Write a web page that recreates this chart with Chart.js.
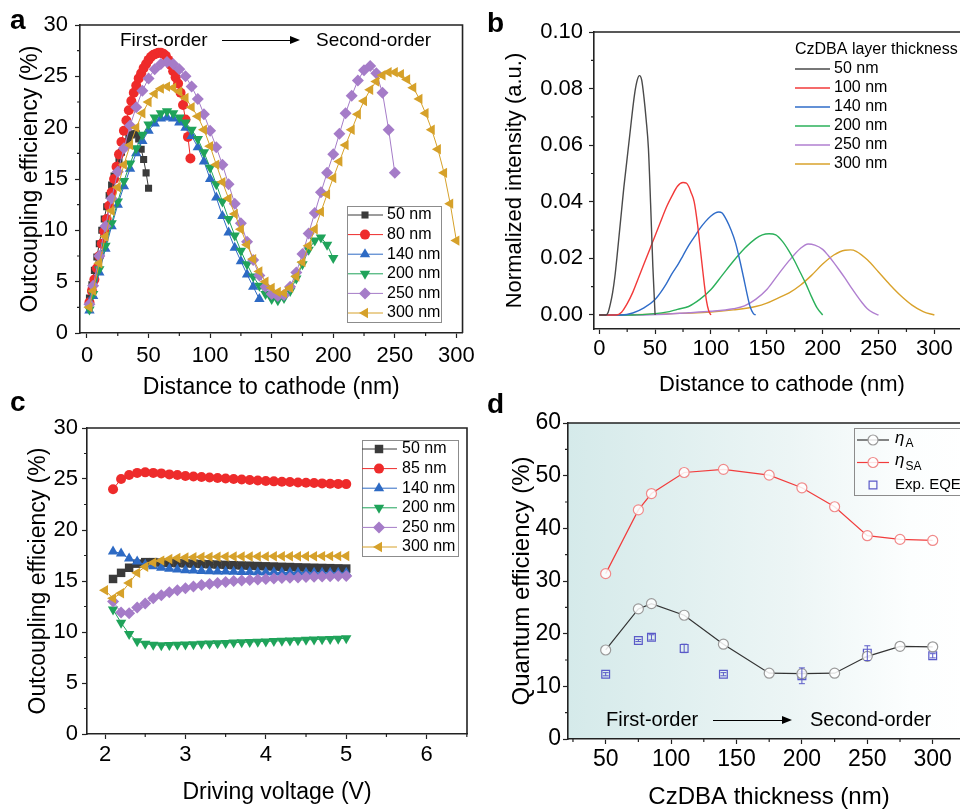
<!DOCTYPE html>
<html>
<head>
<meta charset="utf-8">
<script src="https://cdn.jsdelivr.net/npm/chart.js@4.4.1/dist/chart.umd.min.js"></script>
<style>
  html, body { margin: 0; padding: 0; background: #fff; }
  #wrap { position: relative; width: 960px; height: 809px; overflow: hidden; font-family: Arial, "Liberation Sans", sans-serif; }
  canvas { position: absolute; }
  .lbl { position: absolute; font-weight: bold; font-size: 28px; line-height: 1; z-index: 2; }
  .note { position: absolute; font-size: 19px; line-height: 1; white-space: nowrap; z-index: 2; }
  .arrow { position: absolute; height: 0; border-top: 1.5px solid #000; z-index: 2; }
  .arrow:after { content: ''; position: absolute; right: -10px; top: -5.5px; border-left: 10px solid #000; border-top: 4px solid transparent; border-bottom: 4px solid transparent; }
</style>
</head>
<body>
<div id="wrap">
  <canvas id="chartA" width="480" height="400" style="left:0;top:0"></canvas>
  <canvas id="chartB" width="500" height="400" style="left:480px;top:0"></canvas>
  <canvas id="chartC" width="480" height="409" style="left:0;top:400px"></canvas>
  <canvas id="chartD" width="500" height="409" style="left:480px;top:400px"></canvas>

  <div class="lbl" style="left:10px;top:6px">a</div>
  <div class="lbl" style="left:487px;top:9px">b</div>
  <div class="lbl" style="left:10px;top:388px">c</div>
  <div class="lbl" style="left:487px;top:390px">d</div>

  <div class="note" style="left:120px;top:30px">First-order</div>
  <div class="arrow" style="left:222px;top:40px;width:68px"></div>
  <div class="note" style="left:316px;top:30px">Second-order</div>

  <div class="note" style="left:606px;top:709px;font-size:20px">First-order</div>
  <div class="arrow" style="left:713px;top:720px;width:69px"></div>
  <div class="note" style="left:810px;top:709px;font-size:20px">Second-order</div>
</div>
<script>
const FONT = 'Arial, "Liberation Sans", sans-serif';
Chart.defaults.font.family = FONT;
Chart.defaults.color = '#000';

// ---------- panel a: outcoupling vs distance to cathode ----------
const distFine = [2, 4, 6, 8, 10, 12, 14, 16, 18, 20, 22, 24, 26, 28, 30, 32, 34, 36, 38, 40, 42,
  44, 46, 48, 50, 52, 54, 56, 58, 60, 62, 64, 66, 68, 70, 72, 74, 76, 78, 80, 82, 84];
const distCoarse = [2, 5, 10, 15, 20, 25, 30, 35, 40, 45, 50, 55, 60, 65, 70, 75, 80, 85, 90, 95, 100,
  105, 110, 115, 120, 125, 130, 135, 140, 145, 150, 155, 160, 165, 170, 175, 180, 185, 190, 195, 200,
  205, 210, 215, 220, 225, 230, 235, 240, 245, 250, 255, 260, 265, 270, 275, 280, 285, 290, 295, 300];

const effA50 = [3.4, 4.7, 6.1, 7.4, 8.7, 10.0, 11.1, 12.3, 13.4, 14.4, 15.3, 16.2, 16.9, 17.6, 18.2,
  18.6, 19.0, 19.3, 19.4, 19.4, 18.9, 17.9, 16.9, 15.6, 14.1];
const effA80 = [3.0, 4.1, 5.2, 6.3, 7.5, 8.7, 9.9, 11.1, 12.4, 13.7, 15.0, 16.2, 17.4, 18.6, 19.7,
  20.7, 21.7, 22.6, 23.4, 24.1, 24.8, 25.3, 25.8, 26.2, 26.6, 26.9, 27.1, 27.2, 27.3, 27.3, 27.2,
  27.0, 26.6, 26.1, 25.5, 24.9, 24.3, 23.4, 22.2, 20.8, 19.1, 17.0];
const effA140 = [2.2, 3.6, 5.9, 8.2, 10.4, 12.5, 14.3, 16.0, 17.5, 18.7, 19.7, 20.4, 20.9, 21.0, 20.9,
  20.5, 20.0, 19.2, 18.1, 16.7, 15.0, 13.2, 11.4, 9.8, 8.3, 7.0, 5.7, 4.5, 3.3];
const effA200 = [2.3, 3.8, 6.2, 8.5, 10.7, 12.8, 14.8, 16.5, 18.0, 19.3, 20.3, 21.0, 21.4, 21.6, 21.4,
  21.0, 20.5, 19.8, 18.9, 17.6, 16.1, 14.5, 12.8, 11.1, 9.5, 8.0, 6.7, 5.5, 4.6, 3.8, 3.3, 3.2, 3.4,
  4.1, 5.3, 6.7, 8.1, 9.0, 9.3, 8.6, 7.3];
const effA250 = [2.8, 4.6, 7.5, 10.4, 13.1, 15.7, 18.0, 20.2, 22.0, 23.6, 24.8, 25.7, 26.2, 26.4, 26.2,
  25.7, 25.0, 24.0, 22.8, 21.3, 19.7, 18.1, 16.4, 14.5, 12.6, 10.7, 8.9, 7.1, 5.6, 4.5, 3.8, 3.6, 3.7,
  4.5, 5.9, 7.7, 9.7, 11.7, 13.7, 15.6, 17.4, 19.4, 21.4, 23.1, 24.6, 25.6, 26.0, 25.3, 23.4, 19.8, 15.6];
const effA300 = [2.5, 4.1, 6.8, 9.4, 11.9, 14.2, 16.4, 18.3, 20.0, 21.4, 22.5, 23.3, 23.8, 24.0, 23.9,
  23.5, 22.9, 22.0, 21.1, 19.8, 18.2, 16.4, 14.7, 13.1, 11.6, 10.1, 8.6, 7.2, 6.0, 5.0, 4.4, 4.0, 3.9,
  4.4, 5.5, 6.9, 8.5, 10.1, 11.8, 13.5, 15.1, 16.7, 18.3, 19.8, 21.3, 22.6, 23.7, 24.5, 25.1, 25.4,
  25.4, 25.2, 24.7, 23.9, 22.8, 21.4, 19.8, 17.9, 15.6, 12.6, 9.0];
const ticksAx = [0, 50, 100, 150, 200, 250, 300];
const minorAx = [25, 75, 125, 175, 225, 275];
const ticksAy = [0, 5, 10, 15, 20, 25, 30];
const minorAy = [2.5, 7.5, 12.5, 17.5, 22.5, 27.5];

// ---------- panel b: emission profiles ----------
const posB50 = [0, 4, 6, 8, 10, 12, 14, 16, 18, 20, 22, 24, 26, 28, 30, 32, 34, 36, 38, 40, 42, 44, 46, 48, 50];
const intB50 = [0, 0, 0, 0.001, 0.004, 0.008, 0.0136, 0.021, 0.029, 0.037, 0.045, 0.052, 0.059, 0.066,
  0.073, 0.079, 0.083, 0.0846, 0.083, 0.077, 0.069, 0.059, 0.039, 0.017, 0];
const posB100 = [0, 15, 20, 25, 30, 35, 40, 45, 50, 55, 60, 65, 70, 75, 78, 80, 82, 85, 88, 90, 92, 94, 96, 98, 100];
const intB100 = [0, 0, 0.001, 0.004, 0.008, 0.013, 0.018, 0.023, 0.028, 0.033, 0.038, 0.042, 0.0455,
  0.0468, 0.0466, 0.0455, 0.0435, 0.040, 0.032, 0.025, 0.018, 0.011, 0.005, 0.0015, 0];
const posB140 = [0, 20, 30, 40, 50, 55, 60, 65, 70, 75, 80, 85, 90, 95, 100, 104, 107, 110, 114, 118,
  122, 126, 129, 132, 135, 138, 140];
const intB140 = [0, 0, 0.0007, 0.0025, 0.0055, 0.008, 0.011, 0.0145, 0.0175, 0.021, 0.0245, 0.0275,
  0.0305, 0.033, 0.035, 0.0361, 0.0364, 0.036, 0.0335, 0.030, 0.0255, 0.019, 0.0136, 0.008, 0.003, 0.0005, 0];
const posB200 = [0, 30, 50, 60, 70, 80, 90, 100, 110, 120, 130, 140, 146, 152, 158, 164, 170, 175, 180,
  185, 190, 195, 200];
const intB200 = [0, 0, 0.0005, 0.001, 0.002, 0.003, 0.0055, 0.009, 0.014, 0.019, 0.0235, 0.027, 0.0283,
  0.0287, 0.0283, 0.026, 0.0225, 0.019, 0.015, 0.011, 0.0065, 0.0025, 0];
const posB250 = [0, 40, 80, 100, 120, 130, 140, 150, 160, 170, 180, 187, 193, 200, 205, 210, 215, 220,
  225, 230, 235, 240, 245, 250];
const intB250 = [0, 0, 0.0008, 0.0013, 0.0022, 0.0032, 0.0055, 0.009, 0.0142, 0.0192, 0.0235, 0.0251,
  0.0247, 0.0232, 0.021, 0.0185, 0.0158, 0.013, 0.010, 0.0072, 0.0045, 0.0022, 0.0008, 0];
const posB300 = [0, 50, 100, 120, 140, 150, 160, 170, 180, 190, 200, 210, 220, 225, 230, 240, 250, 260,
  270, 280, 290, 300];
const intB300 = [0, 0.0003, 0.001, 0.0018, 0.003, 0.0042, 0.006, 0.0078, 0.0105, 0.014, 0.018, 0.0212,
  0.0229, 0.023, 0.0225, 0.0195, 0.0152, 0.0108, 0.0068, 0.0035, 0.0012, 0];
const ticksBx = [0, 50, 100, 150, 200, 250, 300];
const minorBx = [25, 75, 125, 175, 225, 275];
const ticksBy = [0, 0.02, 0.04, 0.06, 0.08, 0.10];
const minorBy = [0.01, 0.03, 0.05, 0.07, 0.09];

// ---------- panel c: outcoupling vs driving voltage ----------
const voltC = [2.1, 2.2, 2.3, 2.4, 2.5, 2.6, 2.7, 2.8, 2.9, 3.0, 3.1, 3.2, 3.3, 3.4, 3.5, 3.6, 3.7, 3.8,
  3.9, 4.0, 4.1, 4.2, 4.3, 4.4, 4.5, 4.6, 4.7, 4.8, 4.9, 5.0];
const voltC300 = [2.0, 2.1, 2.2, 2.3, 2.4, 2.5, 2.6, 2.7, 2.8, 2.9, 3.0, 3.1, 3.2, 3.3, 3.4, 3.5, 3.6,
  3.7, 3.8, 3.9, 4.0, 4.1, 4.2, 4.3, 4.4, 4.5, 4.6, 4.7, 4.8, 4.9, 5.0];
const effC50 = [15.2, 15.8, 16.3, 16.7, 16.85, 16.85, 16.8, 16.78, 16.75, 16.72, 16.7, 16.67, 16.64,
  16.61, 16.58, 16.55, 16.52, 16.5, 16.47, 16.44, 16.42, 16.39, 16.37, 16.34, 16.32, 16.3, 16.28,
  16.26, 16.24, 16.22];
const effC85 = [24.0, 25.0, 25.4, 25.6, 25.65, 25.6, 25.55, 25.45, 25.4, 25.3, 25.25, 25.2, 25.15, 25.1,
  25.05, 25.0, 24.95, 24.9, 24.85, 24.8, 24.77, 24.73, 24.7, 24.66, 24.63, 24.6, 24.57, 24.54, 24.52, 24.5];
const effC140 = [17.9, 17.7, 17.2, 16.9, 16.6, 16.45, 16.3, 16.2, 16.12, 16.06, 16.02, 15.99, 15.96,
  15.94, 15.92, 15.9, 15.89, 15.88, 15.87, 15.86, 15.85, 15.84, 15.83, 15.83, 15.82, 15.82, 15.81,
  15.81, 15.8, 15.8];
const effC200 = [12.2, 10.9, 9.8, 9.1, 8.85, 8.75, 8.7, 8.72, 8.75, 8.78, 8.81, 8.84, 8.87, 8.9, 8.93,
  8.96, 8.99, 9.02, 9.05, 9.08, 9.11, 9.14, 9.17, 9.2, 9.23, 9.26, 9.29, 9.32, 9.35, 9.38];
const effC250 = [13.0, 11.9, 11.85, 12.4, 12.8, 13.3, 13.6, 13.9, 14.1, 14.3, 14.45, 14.6, 14.7, 14.8,
  14.9, 15.0, 15.05, 15.1, 15.15, 15.2, 15.25, 15.3, 15.32, 15.35, 15.4, 15.42, 15.45, 15.47, 15.5, 15.5];
const effC300 = [14.1, 13.3, 13.8, 14.8, 15.8, 16.4, 16.8, 17.0, 17.15, 17.25, 17.3, 17.33, 17.35, 17.37,
  17.38, 17.39, 17.4, 17.4, 17.4, 17.41, 17.41, 17.42, 17.42, 17.42, 17.43, 17.43, 17.43, 17.44,
  17.44, 17.44, 17.45];
const ticksCx = [2, 3, 4, 5, 6];
const minorCx = [2.5, 3.5, 4.5, 5.5, 6.5];
const ticksCy = [0, 5, 10, 15, 20, 25, 30];
const minorCy = [2.5, 7.5, 12.5, 17.5, 22.5, 27.5];

// ---------- panel d: quantum efficiency vs CzDBA thickness ----------
const thickD = [50, 75, 85, 110, 140, 175, 200, 225, 250, 275, 300];
const etaA = [16.9, 24.7, 25.7, 23.5, 18.0, 12.5, 12.4, 12.5, 15.7, 17.6, 17.5];
const etaSA = [31.4, 43.5, 46.6, 50.6, 51.2, 50.1, 47.7, 44.1, 38.6, 37.9, 37.7];
const thickEQE = [50, 75, 85, 110, 140, 200, 250, 300];
const eqe = [12.3, 18.7, 19.3, 17.2, 12.3, 12.0, 16.3, 15.8];
const eqeErr = [0.3, 0.2, 0.5, 0.8, 0.3, 1.5, 1.4, 0.4];
const ticksDx = [50, 100, 150, 200, 250, 300];
const minorDx = [25, 75, 125, 175, 225, 275];
const ticksDy = [0, 10, 20, 30, 40, 50, 60];
const minorDy = [5, 15, 25, 35, 45, 55];

// ---------- helpers ----------
function pts(xs, ys) {
  return ys.map((v, i) => ({x: xs[i], y: v}));
}

function markerSet(label, xs, ys, color, style, radius, rot, order) {
  return {
    label: label, data: pts(xs, ys),
    borderColor: color, backgroundColor: color, borderWidth: 1,
    pointStyle: style, pointRadius: radius, pointRotation: rot,
    pointBackgroundColor: color, pointBorderColor: color, pointBorderWidth: 0,
    tension: 0, order: order
  };
}

function curveSet(label, xs, ys, color) {
  return {
    label: label, data: pts(xs, ys), borderColor: color, backgroundColor: color,
    borderWidth: 1.4, pointRadius: 0, cubicInterpolationMode: 'monotone'
  };
}

function axis(o) {
  return {
    type: 'linear', min: o.min, max: o.max,
    afterBuildTicks: s => { s.ticks = o.ticks.map(v => ({value: v})); },
    afterFit: s => { if (s.isHorizontal()) s.height = o.size; else s.width = o.size; },
    ticks: {
      autoSkip: false, maxRotation: 0, padding: o.pad, color: '#000',
      font: {size: o.tickSize}, callback: o.fmt || (v => String(v))
    },
    grid: {drawOnChartArea: false, drawTicks: true, tickLength: 5, tickWidth: 1.2, tickColor: '#222'},
    border: {display: true, color: '#222', width: 1.6},
    title: {display: true, text: o.title, color: '#000', font: {size: o.titleSize, lineHeight: 1}, padding: o.titlePad}
  };
}

// box on top/right, minor ticks, optional gradient background
const framePlugin = {
  id: 'frame',
  beforeDraw(chart, args, o) {
    if (!o.fill) return;
    const a = chart.chartArea, ctx = chart.ctx;
    const g = ctx.createLinearGradient(a.left, 0, a.right, 0);
    o.fill.forEach(s => g.addColorStop(s[0], s[1]));
    ctx.save();
    ctx.fillStyle = g;
    ctx.fillRect(a.left, a.top, a.right - a.left, a.bottom - a.top);
    ctx.restore();
  },
  afterDraw(chart, args, o) {
    const ctx = chart.ctx, a = chart.chartArea, sx = chart.scales.x, sy = chart.scales.y;
    ctx.save();
    ctx.strokeStyle = '#222';
    ctx.lineWidth = 1.6;
    ctx.beginPath();
    ctx.moveTo(a.left, a.top); ctx.lineTo(a.right, a.top); ctx.lineTo(a.right, a.bottom);
    ctx.stroke();
    ctx.lineWidth = 1.2;
    ctx.beginPath();
    (o.xMinor || []).forEach(v => { const p = sx.getPixelForValue(v); ctx.moveTo(p, a.bottom); ctx.lineTo(p, a.bottom + 3); });
    (o.yMinor || []).forEach(v => { const p = sy.getPixelForValue(v); ctx.moveTo(a.left, p); ctx.lineTo(a.left - 3, p); });
    ctx.stroke();
    ctx.restore();
  }
};

// legend drawn inside the plot
const legendPlugin = {
  id: 'boxLegend',
  afterDraw(chart, args, o) {
    if (!o.items) return;
    const ctx = chart.ctx;
    ctx.save();
    if (o.box) {
      ctx.strokeStyle = '#8c8c8c'; ctx.lineWidth = 1;
      ctx.strokeRect(o.box[0] + 0.5, o.box[1] + 0.5, o.box[2], o.box[3]);
    }
    ctx.textBaseline = 'middle';
    ctx.fillStyle = '#000';
    const plain = o.size + 'px Arial, "Liberation Sans", sans-serif';
    if (o.title) {
      ctx.font = plain;
      ctx.fillText(o.title, o.titleX, o.titleY);
    }
    o.items.forEach((idx, i) => {
      const ds = chart.data.datasets[idx];
      const y = o.y0 + i * o.dy;
      if (ds.showLine !== false) {
        ctx.strokeStyle = ds.borderColor; ctx.lineWidth = ds.borderWidth || 1;
        ctx.beginPath(); ctx.moveTo(o.x0, y); ctx.lineTo(o.x1, y); ctx.stroke();
      }
      if (ds.pointRadius > 0 && Chart.helpers && Chart.helpers.drawPoint) {
        ctx.fillStyle = ds.pointBackgroundColor;
        ctx.strokeStyle = ds.pointBorderColor;
        ctx.lineWidth = ds.pointBorderWidth;
        Chart.helpers.drawPoint(ctx, {pointStyle: ds.pointStyle, rotation: ds.pointRotation || 0,
          radius: ds.pointRadius, borderWidth: ds.pointBorderWidth}, o.mx, y);
      }
      ctx.fillStyle = '#000';
      if (ds.sub) {
        ctx.font = 'italic ' + (o.size + 2) + 'px Arial, "Liberation Sans", sans-serif';
        ctx.fillText(ds.label, o.tx, y - 2);
        const w = ctx.measureText(ds.label).width;
        ctx.font = (o.size - 3) + 'px Arial, "Liberation Sans", sans-serif';
        ctx.fillText(ds.sub, o.tx + w + 1, y + 4);
      } else {
        ctx.font = plain;
        ctx.fillText(ds.label, o.tx, y);
      }
    });
    ctx.restore();
  }
};

// error bars for the experimental EQE points
const errPlugin = {
  id: 'errBars',
  afterDatasetsDraw(chart, args, o) {
    if (!o.errors) return;
    const ctx = chart.ctx, sy = chart.scales.y;
    const meta = chart.getDatasetMeta(o.dataset);
    const ds = chart.data.datasets[o.dataset];
    ctx.save();
    ctx.strokeStyle = o.color; ctx.lineWidth = 1;
    ctx.beginPath();
    meta.data.forEach((p, i) => {
      const v = ds.data[i].y, e = o.errors[i];
      const top = sy.getPixelForValue(v + e), bot = sy.getPixelForValue(v - e);
      ctx.moveTo(p.x, top); ctx.lineTo(p.x, bot);
      ctx.moveTo(p.x - 3, top); ctx.lineTo(p.x + 3, top);
      ctx.moveTo(p.x - 3, bot); ctx.lineTo(p.x + 3, bot);
    });
    ctx.stroke();
    ctx.restore();
  }
};

Chart.register(framePlugin, legendPlugin, errPlugin);

function buildChart(id, cfg) {
  return new Chart(document.getElementById(id), {
    type: 'line',
    data: {datasets: cfg.datasets},
    options: {
      responsive: false, animation: false, devicePixelRatio: 1,
      layout: {padding: cfg.padding},
      plugins: {
        legend: {display: false}, tooltip: {enabled: false},
        frame: cfg.frame, boxLegend: cfg.legend, errBars: cfg.errBars || {}
      },
      scales: {x: cfg.x, y: cfg.y}
    }
  });
}

const C_BLACK = '#3a3a3a', C_RED = '#ee2b2b', C_BLUE = '#2d6ac4',
      C_GREEN = '#1fa35a', C_PURPLE = '#a57cc8', C_GOLD = '#d6a12a';

// panel a
buildChart('chartA', {
  datasets: [
    markerSet('50 nm', distFine, effA50, C_BLACK, 'rect', 5, 0, 6),
    markerSet('80 nm', distFine, effA80, C_RED, 'circle', 5, 0, 5),
    markerSet('140 nm', distCoarse, effA140, C_BLUE, 'triangle', 6, 0, 4),
    markerSet('200 nm', distCoarse, effA200, C_GREEN, 'triangle', 6, 180, 3),
    markerSet('250 nm', distCoarse, effA250, C_PURPLE, 'rectRot', 6, 0, 2),
    markerSet('300 nm', distCoarse, effA300, C_GOLD, 'triangle', 6, 270, 1)
  ],
  padding: {top: 25, right: 17, left: 0, bottom: 0},
  x: axis({min: -5.68, max: 305, ticks: ticksAx, size: 67, pad: 5, tickSize: 22,
    title: 'Distance to cathode (nm)', titleSize: 23, titlePad: {top: 0, bottom: 1}}),
  y: axis({min: 0, max: 30, ticks: ticksAy, size: 80, pad: 7, tickSize: 22,
    title: 'Outcoupling efficiency (%)', titleSize: 23, titlePad: {top: 19, bottom: 0}}),
  frame: {xMinor: minorAx, yMinor: minorAy},
  legend: {items: [0, 1, 2, 3, 4, 5], box: [347, 206, 94, 116], x0: 348, x1: 383, mx: 365, tx: 387,
    y0: 215, dy: 19.6, size: 16}
});

// panel b
buildChart('chartB', {
  datasets: [
    curveSet('50 nm', posB50, intB50, '#4a4a4a'),
    curveSet('100 nm', posB100, intB100, '#f23a3a'),
    curveSet('140 nm', posB140, intB140, '#2f6cc9'),
    curveSet('200 nm', posB200, intB200, '#2bb05a'),
    curveSet('250 nm', posB250, intB250, '#b07fd0'),
    curveSet('300 nm', posB300, intB300, '#d9a22b')
  ],
  padding: {top: 32, right: 10, left: 0, bottom: 0},
  x: axis({min: -4.7, max: 331.9, ticks: ticksBx, size: 71, pad: 2, tickSize: 22,
    title: 'Distance to cathode (nm)', titleSize: 22, titlePad: {top: 0, bottom: 4}}),
  y: axis({min: -0.00495, max: 0.10, ticks: ticksBy, size: 114, pad: 6, tickSize: 22,
    fmt: v => v.toFixed(2),
    title: 'Normalized intensity (a.u.)', titleSize: 22, titlePad: {top: 24, bottom: 0}}),
  frame: {xMinor: minorBx, yMinor: minorBy},
  legend: {items: [0, 1, 2, 3, 4, 5], title: 'CzDBA layer thickness', titleX: 315, titleY: 50,
    x0: 315, x1: 350, mx: 332, tx: 354, y0: 69, dy: 19, size: 16}
});

// panel c
buildChart('chartC', {
  datasets: [
    markerSet('50 nm', voltC, effC50, C_BLACK, 'rect', 6, 0, 6),
    markerSet('85 nm', voltC, effC85, C_RED, 'circle', 5, 0, 5),
    markerSet('140 nm', voltC, effC140, C_BLUE, 'triangle', 6, 0, 4),
    markerSet('200 nm', voltC, effC200, C_GREEN, 'triangle', 6, 180, 3),
    markerSet('250 nm', voltC, effC250, C_PURPLE, 'rectRot', 6, 0, 2),
    markerSet('300 nm', voltC300, effC300, C_GOLD, 'triangle', 6, 270, 1)
  ],
  padding: {top: 28, right: 13, left: 0, bottom: 0},
  x: axis({min: 1.776, max: 6.502, ticks: ticksCx, size: 75, pad: 3, tickSize: 22,
    title: 'Driving voltage (V)', titleSize: 23, titlePad: {top: 0, bottom: 4.5}}),
  y: axis({min: 0, max: 30, ticks: ticksCy, size: 87, pad: 4, tickSize: 22,
    title: 'Outcoupling efficiency (%)', titleSize: 23, titlePad: {top: 27.5, bottom: 0}}),
  frame: {xMinor: minorCx, yMinor: minorCy},
  legend: {items: [0, 1, 2, 3, 4, 5], box: [362, 40, 96, 116], x0: 362, x1: 397, mx: 379, tx: 402,
    y0: 49, dy: 19.6, size: 16}
});

// panel d
const dsEtaA = {
  label: 'η', sub: 'A', data: pts(thickD, etaA), borderColor: '#333', borderWidth: 1.2,
  pointStyle: 'circle', pointRadius: 5, pointBackgroundColor: 'rgba(255,255,255,0.85)',
  pointBorderColor: '#9a9a9a', pointBorderWidth: 1.2, tension: 0
};
const dsEtaSA = {
  label: 'η', sub: 'SA', data: pts(thickD, etaSA), borderColor: '#f23c3c', borderWidth: 1.2,
  pointStyle: 'circle', pointRadius: 5, pointBackgroundColor: 'rgba(255,255,255,0.85)',
  pointBorderColor: '#f08a8a', pointBorderWidth: 1.2, tension: 0
};
const dsEQE = {
  label: 'Exp. EQE', data: pts(thickEQE, eqe), showLine: false, borderColor: '#5a5ac8',
  pointStyle: 'rect', pointRadius: 5.5, pointBackgroundColor: 'rgba(255,255,255,0)',
  pointBorderColor: '#5a5ac8', pointBorderWidth: 1.2
};
buildChart('chartD', {
  datasets: [dsEtaA, dsEtaSA, dsEQE],
  padding: {top: 23, right: 10, left: 0, bottom: 0},
  x: axis({min: 21.2, max: 328.5, ticks: ticksDx, size: 70, pad: 2, tickSize: 23,
    title: 'CzDBA thickness (nm)', titleSize: 24, titlePad: {top: 0, bottom: 0}}),
  y: axis({min: 0, max: 60, ticks: ticksDy, size: 88, pad: 2, tickSize: 23,
    title: 'Quantum efficiency (%)', titleSize: 24, titlePad: {top: 30, bottom: 0}}),
  frame: {xMinor: minorDx, yMinor: minorDy,
    fill: [[0, 'rgb(213,234,234)'], [0.55, 'rgb(236,245,245)'], [0.85, 'rgb(252,254,254)'], [1, '#ffffff']]},
  legend: {items: [0, 1, 2], box: [374, 28, 140, 67], x0: 377, x1: 409, mx: 393, tx: 415,
    y0: 40, dy: 22.5, size: 15},
  errBars: {dataset: 2, errors: eqeErr, color: '#5a5ac8'}
});
</script>
</body>
</html>
